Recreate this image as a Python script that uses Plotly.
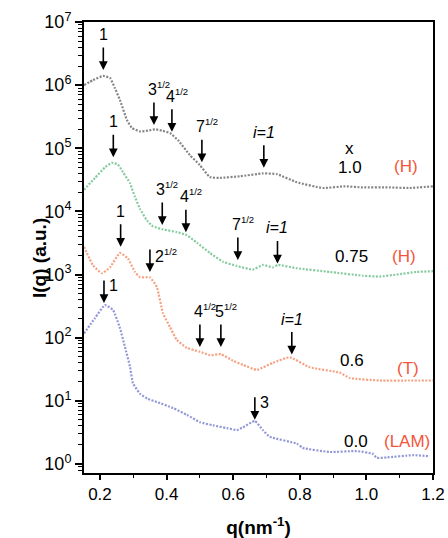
import numpy as np
import plotly.graph_objects as go

# ---- data ----
q_10 = [0.152,0.179,0.209,0.230,0.245,0.260,0.281,0.296,0.320,0.344,0.365,0.386,0.410,0.434,
        0.470,0.500,0.530,0.560,0.620,0.689,0.731,0.791,0.869,0.935,0.989,1.070,1.130,1.200]
I_10 = [1.0e6,1.2e6,1.4e6,1.3e6,8.9e5,5.8e5,2.8e5,2.1e5,1.85e5,1.9e5,2.0e5,1.9e5,1.75e5,1.35e5,
        7.8e4,5.4e4,3.5e4,3.4e4,3.6e4,4.0e4,3.9e4,2.9e4,2.35e4,2.5e4,2.4e4,2.4e4,2.35e4,2.5e4]

q_75 = [0.152,0.185,0.215,0.236,0.254,0.269,0.290,0.305,0.320,0.341,0.359,0.389,0.431,0.461,0.491,
        0.530,0.569,0.611,0.659,0.689,0.719,0.734,0.791,0.890,0.989,1.040,1.090,1.151,1.200]
I_75 = [2.2e4,3.4e4,5.0e4,5.9e4,5.5e4,4.2e4,2.8e4,1.7e4,1.1e4,7.2e3,5.8e3,5.2e3,4.7e3,4.2e3,3.2e3,
        2.2e3,1.6e3,1.37e3,1.2e3,1.42e3,1.3e3,1.42e3,1.26e3,1.1e3,960,930,1.0e3,1.1e3,1.13e3]

q_6 = [0.152,0.179,0.206,0.230,0.260,0.284,0.305,0.320,0.350,0.371,0.389,0.410,0.431,0.461,0.500,
       0.530,0.563,0.600,0.630,0.671,0.719,0.770,0.830,0.920,0.950,1.040,1.130,1.200]
I_6 = [2750,1400,1050,1300,2200,1800,1100,910,900,630,245,148,92,69,60,
       53,55,43,37,31,40,49,34,28,23,21,21,21]

q_0 = [0.152,0.185,0.215,0.239,0.260,0.275,0.290,0.299,0.320,0.344,0.371,0.419,0.461,0.500,0.539,
       0.581,0.611,0.629,0.665,0.689,0.710,0.791,0.809,0.890,0.971,1.019,1.031,1.061,1.139,1.190]
I_0 = [117,205,330,275,142,71,35,19,13,10.7,9.6,7.7,6.0,4.6,4.1,
       3.7,3.45,3.8,4.8,3.45,2.7,2.1,1.8,1.55,1.6,1.45,1.25,1.27,1.38,1.33]

series_names = ["1.0", "0.75", "0.6", "0.0"]
series_colors = ["#858585", "#86cb9f", "#f6a183", "#9298d6"]

# arrows: q position, tip intensity, base number, superscript, label side
arrow_q = [0.21, 0.362, 0.416, 0.506, 0.692,
           0.24, 0.387, 0.458, 0.614, 0.733,
           0.262, 0.35, 0.50, 0.563, 0.776,
           0.212, 0.665]
arrow_I = [1.74e6, 2.34e5, 1.82e5, 6.0e4, 4.9e4,
           7.2e4, 6.1e3, 4.7e3, 1.7e3, 1.5e3,
           2.75e3, 1.1e3, 71, 71, 54,
           355, 5.0]
arrow_base = ["1", "3", "4", "7", "i=1",
              "1", "3", "4", "7", "i=1",
              "1", "2", "4", "5", "i=1",
              "1", "3"]
arrow_sup = ["", "1/2", "1/2", "1/2", "",
             "", "1/2", "1/2", "1/2", "",
             "", "1/2", "1/2", "1/2", "",
             "", ""]
arrow_side = ["top"] * 11 + ["right"] + ["top"] * 3 + ["right", "right"]

# text labels
lab_q = [0.95, 0.95, 1.118, 0.956, 1.112, 0.956, 1.124, 0.968, 1.121]
lab_I = [1.0e5, 4.9e4, 5.2e4, 1.95e3, 1.95e3, 43, 33, 2.3, 2.3]
lab_text = ["x", "1.0", "(H)", "0.75", "(H)", "0.6", "(T)", "0.0", "(LAM)"]
lab_red = [False, False, True, False, True, False, True, False, True]

FONT = "Arial, Liberation Sans, sans-serif"
fig = go.Figure()
for q, I, name, col in zip([q_10, q_75, q_6, q_0], [I_10, I_75, I_6, I_0], series_names, series_colors):
    fig.add_trace(go.Scatter(x=q, y=I, mode="lines", name=name,
                             line=dict(color=col, width=2.2, dash="2px,1.5px", shape="spline", smoothing=0.4),
                             showlegend=False))


def label_html(base, sup):
    b = "<i>%s</i>" % base if base.startswith("i") else base
    if sup:
        b += "<sup><span style='font-size:9.5px'>%s</span></sup>" % sup
    return b


ann = []
L = 24
for q, I, b, s, side in zip(arrow_q, arrow_I, arrow_base, arrow_sup, arrow_side):
    ly = np.log10(I)
    t = label_html(b, s)
    ann.append(dict(x=q, y=ly, xref="x", yref="y", text="", showarrow=True, ax=0, ay=-L,
                    arrowhead=2, arrowsize=1.1, arrowwidth=1.6, arrowcolor="black", standoff=0))
    if side == "top":
        if s:
            ann.append(dict(x=q, y=ly, xref="x", yref="y", text=t, showarrow=False,
                            yanchor="bottom", xanchor="left", yshift=L + 1, xshift=-8,
                            font=dict(family=FONT, size=16, color="black")))
        else:
            ann.append(dict(x=q, y=ly, xref="x", yref="y", text=t, showarrow=False,
                            yanchor="bottom", xanchor="center", yshift=L + 1,
                            font=dict(family=FONT, size=16, color="black")))
    else:
        ann.append(dict(x=q, y=ly, xref="x", yref="y", text=t, showarrow=False,
                        yanchor="top", xanchor="left", yshift=L + 4, xshift=3,
                        font=dict(family=FONT, size=16, color="black")))
for q, I, t, red in zip(lab_q, lab_I, lab_text, lab_red):
    ann.append(dict(x=q, y=np.log10(I), xref="x", yref="y", text=t, showarrow=False,
                    font=dict(family=FONT, size=17, color="#f2553c" if red else "black")))

# y-axis title as rotated annotation (placed like the reference)
ann.append(dict(x=0, y=0.5, xref="paper", yref="paper", xshift=-57, yshift=-11, textangle=-90,
                text="<b>I(q) (a.u.)</b>", showarrow=False,
                font=dict(family=FONT, size=19, color="black")))

major_vals = [10.0 ** k for k in range(0, 8)]
major_text = ["10<sup>%d</sup>" % k for k in range(0, 8)]
minor_vals = [m * 10.0 ** k for k in range(-1, 7) for m in range(2, 10)]

fig.update_layout(
    width=448, height=538,
    margin=dict(l=84, r=15, t=22, b=65),
    paper_bgcolor="white", plot_bgcolor="white",
    font=dict(family=FONT, color="black"),
    annotations=ann,
    xaxis=dict(range=[0.152, 1.2], tickmode="linear", tick0=0.2, dtick=0.2, tickformat=".1f",
               ticks="outside", ticklen=5, tickwidth=1.5, tickcolor="black", automargin=False,
               minor=dict(dtick=0.1, tick0=0.1, ticks="outside", ticklen=3, tickcolor="black", tickwidth=1),
               showline=True, linecolor="black", linewidth=2, mirror=True, showgrid=False, zeroline=False,
               tickfont=dict(size=17, family=FONT),
               title=dict(text="<b>q(nm<sup>-1</sup>)</b>", font=dict(size=19, family=FONT), standoff=17)),
    yaxis=dict(type="log", range=[-0.1425, 7], tickmode="array", tickvals=major_vals, ticktext=major_text,
               ticks="outside", ticklen=7, tickwidth=1.5, tickcolor="black", automargin=False,
               minor=dict(tickmode="array", tickvals=minor_vals, ticks="outside", ticklen=4,
                          tickcolor="black", tickwidth=1),
               showline=True, linecolor="black", linewidth=2, mirror=True, showgrid=False, zeroline=False,
               tickfont=dict(size=18, family=FONT)),
)

fig.write_html("out.html")
